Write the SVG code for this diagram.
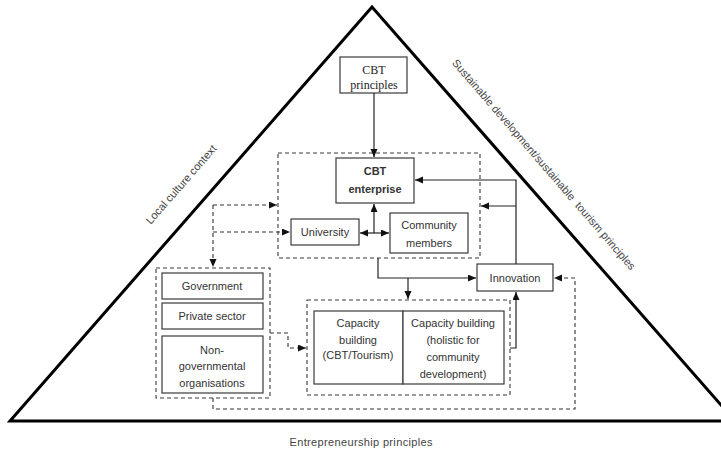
<svg xmlns="http://www.w3.org/2000/svg" width="721" height="450" viewBox="0 0 721 450">
<style>
.box{fill:#fff;stroke:#3a3a3a;stroke-width:1.2}
.dbox{fill:none;stroke:#3a3a3a;stroke-width:1.1;stroke-dasharray:4 3}
.t{font-family:"Liberation Sans",Arial,sans-serif;font-size:11px;fill:#333;text-anchor:middle}
.tb{font-weight:bold}
.ts{font-family:"Liberation Serif","Times New Roman",serif;font-size:12px;fill:#222;text-anchor:middle}
.lbl{font-family:"Liberation Sans",Arial,sans-serif;font-size:11px;fill:#444;text-anchor:middle}
.c{fill:none;stroke:#222;stroke-width:1.2}
.cd{fill:none;stroke:#333;stroke-width:1.1;stroke-dasharray:4 3}
</style>
<defs>
<marker id="a" markerUnits="userSpaceOnUse" markerWidth="9" markerHeight="8" refX="8" refY="3.5" orient="auto-start-reverse">
<path d="M0,0 L8,3.5 L0,7 z" fill="#111"/>
</marker>
</defs>
<rect width="721" height="450" fill="#fff"/>
<g id="triangle">
<path d="M372,7 L10,421 L735,421 Z" fill="none" stroke="#000" stroke-width="3" stroke-linejoin="miter"/>
</g>
<g id="labels">
<text class="lbl" transform="translate(184,187) rotate(-48.8)">Local culture context</text>
<text class="lbl" transform="translate(541,167) rotate(49.2)" xml:space="preserve">Sustainable development/sustainable  tourism principles</text>
<text class="lbl" x="361" y="446" textLength="143">Entrepreneurship principles</text>
</g>
<g id="cbt-principles">
<rect class="box" x="340" y="57" width="67" height="36"/>
<text class="ts" x="374" y="74">CBT</text>
<text class="ts" x="374" y="89">principles</text>
</g>
<g id="core-group">
<rect class="dbox" x="278" y="153" width="202" height="105"/>
</g>
<g id="cbt-enterprise">
<rect class="box" x="336" y="158" width="78" height="45"/>
<text class="t tb" x="375" y="175">CBT</text>
<text class="t tb" x="375" y="193">enterprise</text>
</g>
<g id="university">
<rect class="box" x="291" y="219" width="68" height="26"/>
<text class="t" x="325" y="236">University</text>
</g>
<g id="community-members">
<rect class="box" x="390" y="213" width="78" height="40"/>
<text class="t" x="429" y="229">Community</text>
<text class="t" x="429" y="247">members</text>
</g>
<g id="innovation">
<rect class="box" x="477" y="264" width="76" height="27"/>
<text class="t" x="515" y="282">Innovation</text>
</g>
<g id="stakeholders">
<rect class="dbox" x="156" y="268" width="114" height="130"/>
</g>
<g id="government">
<rect class="box" x="162" y="273" width="101" height="26"/>
<text class="t" x="212" y="290">Government</text>
</g>
<g id="private-sector">
<rect class="box" x="162" y="303" width="101" height="26"/>
<text class="t" x="212" y="320">Private sector</text>
</g>
<g id="ngo">
<rect class="box" x="162" y="336" width="101" height="57"/>
<text class="t" x="212" y="354">Non-</text>
<text class="t" x="212" y="370">governmental</text>
<text class="t" x="212" y="387">organisations</text>
</g>
<g id="capacity-group">
<rect class="dbox" x="307" y="300" width="203" height="95"/>
</g>
<g id="capacity-cbt">
<rect class="box" x="314" y="311" width="89" height="73"/>
<text class="t" x="358" y="327">Capacity</text>
<text class="t" x="358" y="344">building</text>
<text class="t" x="358" y="359">(CBT/Tourism)</text>
</g>
<g id="capacity-holistic">
<rect class="box" x="403" y="311" width="101" height="73"/>
<text class="t" x="453" y="327">Capacity building</text>
<text class="t" x="453" y="344">(holistic for</text>
<text class="t" x="453" y="361">community</text>
<text class="t" x="453" y="378">development)</text>
</g>
<g id="connectors">
<path class="c" d="M374,93 V157" marker-end="url(#a)"/>
<path class="c" d="M360,233 H389" marker-start="url(#a)" marker-end="url(#a)"/>
<path class="c" d="M374,233 V204" marker-end="url(#a)"/>
<path class="c" d="M516,264 V180 H415" marker-end="url(#a)"/>
<path class="c" d="M516,206 H481" marker-end="url(#a)"/>
<path class="c" d="M378,258 V278 H476" marker-end="url(#a)"/>
<path class="c" d="M408,278 V299" marker-end="url(#a)"/>
<path class="c" d="M510,348 H516 V292" marker-end="url(#a)"/>
<path class="cd" d="M213,205 H277" marker-end="url(#a)"/>
<path class="cd" d="M213,205 V267" marker-end="url(#a)"/>
<path class="cd" d="M213,232 H290" marker-end="url(#a)"/>
<path class="cd" d="M270,333 H288 V348 H306" marker-end="url(#a)"/>
<path class="cd" d="M213,398 V409 H575 V278 H554" marker-end="url(#a)"/>
</g>
</svg>
